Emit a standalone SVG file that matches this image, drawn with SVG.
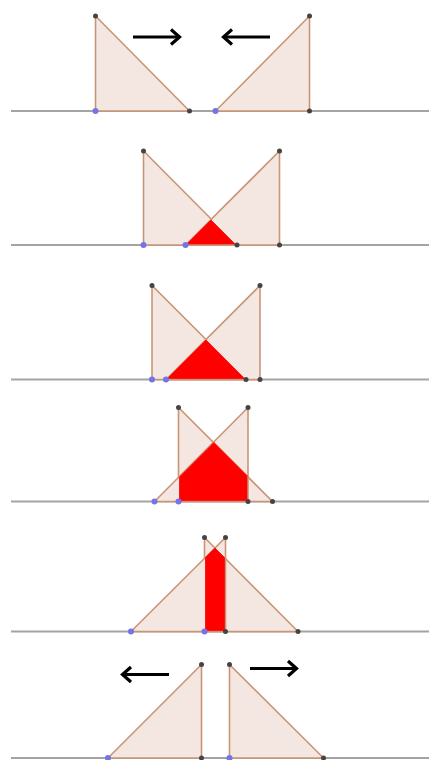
<svg xmlns="http://www.w3.org/2000/svg" width="429" height="760" viewBox="0 0 429 760">
<style>
.base{stroke:#a3a3a3;stroke-width:2;fill:none}
.tri{fill:#f4e7e2;stroke:#c99575;stroke-width:1.6;stroke-linejoin:round}
.red{fill:#ff0000;stroke:#ff0000;stroke-width:0.8}
.pt{fill:#444;}
.bp{fill:#7474e8;}
.arr{stroke:#000;stroke-width:3.2;fill:none;stroke-linecap:butt}
.ah{stroke:#000;stroke-width:3.2;fill:none;stroke-linejoin:miter}
</style>
<rect width="429" height="760" fill="#fff"/>
<g id="baselines">
<line class="base" x1="11" y1="111" x2="429" y2="111"/>
<line class="base" x1="11" y1="245" x2="429" y2="245"/>
<line class="base" x1="11" y1="379.5" x2="429" y2="379.5"/>
<line class="base" x1="11" y1="501.5" x2="429" y2="501.5"/>
<line class="base" x1="11" y1="631.5" x2="429" y2="631.5"/>
<line class="base" x1="11" y1="758" x2="429" y2="758"/>
</g>
<g id="panel1">
<polygon class="tri" points="95.5,16 95.5,111 189.5,111"/>
<polygon class="tri" points="215.5,111 309.5,16 309.5,111"/>
<circle class="pt" cx="95.5" cy="16" r="2.5"/>
<circle class="pt" cx="189.5" cy="111" r="2.5"/>
<circle class="pt" cx="309.5" cy="16" r="2.5"/>
<circle class="pt" cx="309.5" cy="111" r="2.5"/>
<circle class="bp" cx="95.5" cy="111" r="3"/>
<circle class="bp" cx="215.5" cy="111" r="3"/>
</g>
<g id="panel2">
<polygon class="tri" points="143.5,151 143.5,245 237,245"/>
<polygon class="tri" points="185.5,245 279.5,151 279.5,245"/>
<polygon class="red" points="187,244 235,244 211,220"/>
<circle class="pt" cx="143.5" cy="151" r="2.5"/>
<circle class="pt" cx="237" cy="245" r="2.5"/>
<circle class="pt" cx="279.5" cy="151" r="2.5"/>
<circle class="pt" cx="279.5" cy="245" r="2.5"/>
<circle class="bp" cx="143.5" cy="245" r="3"/>
<circle class="bp" cx="185.5" cy="245" r="3"/>
</g>
<g id="panel3">
<polygon class="tri" points="152,285.5 152,379.5 246,379.5"/>
<polygon class="tri" points="166,379.5 260,285.5 260,379.5"/>
<polygon class="red" points="167.5,378.5 244.5,378.5 206,340"/>
<circle class="pt" cx="152" cy="285.5" r="2.5"/>
<circle class="pt" cx="246" cy="379.5" r="2.5"/>
<circle class="pt" cx="260" cy="285.5" r="2.5"/>
<circle class="pt" cx="260" cy="379.5" r="2.5"/>
<circle class="bp" cx="152" cy="379.5" r="3"/>
<circle class="bp" cx="166" cy="379.5" r="3"/>
</g>
<g id="panel4">
<polygon class="tri" points="178.5,407.5 178.5,501.5 272.5,501.5"/>
<polygon class="tri" points="154.5,501.5 248,407.5 248,501.5"/>
<polygon class="red" points="179.5,500.5 179.5,477 214,442.5 247,475.5 247,500.5"/>
<circle class="pt" cx="178.5" cy="407.5" r="2.5"/>
<circle class="pt" cx="272.5" cy="501.5" r="2.5"/>
<circle class="pt" cx="248" cy="407.5" r="2.5"/>
<circle class="pt" cx="248" cy="501.5" r="2.5"/>
<circle class="bp" cx="154.5" cy="501.5" r="3"/>
<circle class="bp" cx="178.5" cy="501.5" r="3"/>
</g>
<g id="panel5">
<polygon class="tri" points="204.5,537.5 204.5,631.5 298,631.5"/>
<polygon class="tri" points="131,631.5 225.5,537.5 225.5,631.5"/>
<polygon class="red" points="205.5,630.5 205.5,557.5 215,548 224.5,557.5 224.5,630.5"/>
<circle class="pt" cx="204.5" cy="537.5" r="2.5"/>
<circle class="pt" cx="298" cy="631.5" r="2.5"/>
<circle class="pt" cx="225.5" cy="537.5" r="2.5"/>
<circle class="pt" cx="225.5" cy="631.5" r="2.5"/>
<circle class="bp" cx="131" cy="631.5" r="3"/>
<circle class="bp" cx="204.5" cy="631.5" r="3"/>
</g>
<g id="panel6">
<polygon class="tri" points="108,758 201.5,664.5 201.5,758"/>
<polygon class="tri" points="229.5,664.5 229.5,758 323.5,758"/>
<circle class="pt" cx="201.5" cy="664.5" r="2.5"/>
<circle class="pt" cx="201.5" cy="758" r="2.5"/>
<circle class="pt" cx="229.5" cy="664.5" r="2.5"/>
<circle class="pt" cx="323.5" cy="758" r="2.5"/>
<circle class="bp" cx="108" cy="758" r="3"/>
<circle class="bp" cx="229.5" cy="758" r="3"/>
</g>
<g id="connectors">
<line class="arr" x1="133" y1="37" x2="179" y2="37"/>
<polyline class="ah" points="171,29.5 179.5,37 171,44.5"/>
<line class="arr" x1="270" y1="37" x2="224" y2="37"/>
<polyline class="ah" points="232,29.5 223.5,37 232,44.5"/>
<line class="arr" x1="169" y1="674.5" x2="123" y2="674.5"/>
<polyline class="ah" points="131,667 122.5,674.5 131,682"/>
<line class="arr" x1="250" y1="668.5" x2="296" y2="668.5"/>
<polyline class="ah" points="288,661 296.5,668.5 288,676"/>
</g>
</svg>
